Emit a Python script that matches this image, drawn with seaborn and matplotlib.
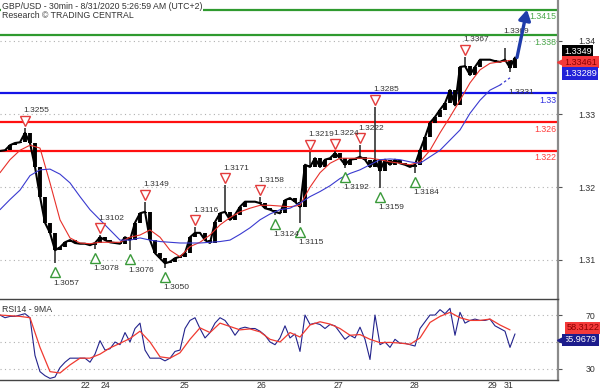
import numpy as np
import pandas as pd
import matplotlib
matplotlib.use("Agg")
import matplotlib.pyplot as plt
import seaborn as sns
from matplotlib.patches import FancyArrowPatch
from matplotlib import transforms as mtrans

# ---------------- data ----------------
title = "GBP/USD - 30min - 8/31/2020 5:26:59 AM (UTC+2)"
subtitle = "Research \u00a9 TRADING CENTRAL"

BAR = 5        # time units between close samples
MA_STEP = 10   # time units between moving-average samples

close = [1.3220, 1.3221, 1.3228, 1.3231, 1.3232, 1.3245, 1.3231, 1.3198, 1.3157, 1.3121,
         1.3107, 1.3083, 1.3087, 1.3094, 1.3097, 1.3093, 1.3092, 1.3092, 1.3090, 1.3093,
         1.3101, 1.3097, 1.3094, 1.3093, 1.3092, 1.3101, 1.3097, 1.3121, 1.3134, 1.3136,
         1.3097, 1.3079, 1.3072, 1.3065, 1.3067, 1.3072, 1.3074, 1.3079, 1.3101, 1.3107,
         1.3107, 1.3097, 1.3093, 1.3122, 1.3134, 1.3136, 1.3125, 1.3132, 1.3143, 1.3150,
         1.3150, 1.3150, 1.3148, 1.3141, 1.3139, 1.3136, 1.3134, 1.3152, 1.3155, 1.3150,
         1.3143, 1.3201, 1.3198, 1.3210, 1.3198, 1.3208, 1.3210, 1.3217, 1.3210, 1.3201,
         1.3208, 1.3209, 1.3212, 1.3208, 1.3198, 1.3208, 1.3193, 1.3208, 1.3201, 1.3208,
         1.3203, 1.3201, 1.3198, 1.3201, 1.3221, 1.3239, 1.3259, 1.3267, 1.3277, 1.3286,
         1.3304, 1.3283, 1.3336, 1.3337, 1.3325, 1.3336, 1.3346, 1.3346, 1.3346, 1.3344,
         1.3343, 1.3346, 1.3335, 1.3349]

red_ma = [1.3190, 1.3208, 1.3221, 1.3228, 1.3224, 1.3176, 1.3125, 1.3100, 1.3093, 1.3092,
          1.3094, 1.3094, 1.3094, 1.3101, 1.3104, 1.3111, 1.3101, 1.3083, 1.3074, 1.3088,
          1.3094, 1.3104, 1.3118, 1.3128, 1.3136, 1.3141, 1.3145, 1.3145, 1.3144, 1.3143,
          1.3145, 1.3170, 1.3190, 1.3203, 1.3210, 1.3210, 1.3210, 1.3210, 1.3208, 1.3205,
          1.3203, 1.3201, 1.3205, 1.3221, 1.3245, 1.3267, 1.3290, 1.3314, 1.3332, 1.3341,
          1.3343, 1.3345]

blue_ma = [1.3139, 1.3153, 1.3166, 1.3186, 1.3194, 1.3195, 1.3188, 1.3176, 1.3157, 1.3139,
           1.3125, 1.3111, 1.3097, 1.3097, 1.3100, 1.3097, 1.3095, 1.3094, 1.3093, 1.3093,
           1.3093, 1.3094, 1.3095, 1.3097, 1.3105, 1.3114, 1.3125, 1.3133, 1.3139, 1.3141,
           1.3148, 1.3157, 1.3164, 1.3172, 1.3182, 1.3189, 1.3194, 1.3201, 1.3208, 1.3209,
           1.3208, 1.3205, 1.3203, 1.3212, 1.3221, 1.3235, 1.3249, 1.3272, 1.3290, 1.3304,
           1.3311, 1.3321]

# swing highs / lows: sample index, drawn extreme, printed label, kind
piv_idx = [5, 11, 19, 20, 26, 29, 33, 39, 45, 52, 55, 60, 62, 67, 69, 72, 75, 76, 83, 93, 101, 102]
piv_ext = [1.3252, 1.3065, 1.3085, 1.3104, 1.3083, 1.3150, 1.3059, 1.3115, 1.3173, 1.3156,
           1.3132, 1.3121, 1.3219, 1.3220, 1.3197, 1.3228, 1.3281, 1.3169, 1.3190, 1.3350,
           1.3362, 1.3329]
piv_lab = ['1.3255', '1.3057', '1.3078', '1.3102', '1.3076', '1.3149', '1.3050', '1.3116',
           '1.3171', '1.3158', '1.3124', '1.3115', '1.3219', '1.3224', '1.3192', '1.3222',
           '1.3285', '1.3159', '1.3184', '1.3367', '1.3369', '1.3331']
piv_kind = ['H', 'L', 'L', 'H', 'L', 'H', 'L', 'H', 'H', 'H', 'L', 'L', 'H', 'H', 'L', 'H',
            'H', 'L', 'L', 'H', 'h', 'l']

level_vals = [1.3415, 1.338, 1.33, 1.326, 1.322]
level_labs = ['1.3415', '1.338', '1.33', '1.326', '1.322']
level_cols = ['#2f9a2f', '#2f9a2f', '#1414e6', '#ff1010', '#ff1010']
level_txt = ['#4aa84a', '#4aa84a', '#3030e0', '#ff3b3b', '#ff3b3b']

target = 1.3415
last_close = 1.3349
red_last = 1.33461
blue_last = 1.33289

rsi = [70, 68, 69, 69, 70, 71, 68, 40, 28, 25,
       23, 24, 31, 35, 38, 38, 38, 38, 35, 41,
       51, 44, 45, 50, 48, 57, 50, 60, 64, 44,
       38, 38, 38, 36, 38, 43, 44, 60, 66, 68,
       60, 53, 57, 64, 68, 66, 61, 55, 60, 61,
       60, 60, 58, 55, 50, 48, 53, 62, 53, 56,
       43, 70, 63, 64, 63, 60, 63, 62, 57, 52,
       55, 53, 61, 52, 37, 70, 48, 50, 46, 52,
       49, 49, 48, 47, 60, 65, 70, 70, 74, 71,
       75, 55, 72, 64, 66, 67, 66, 66, 67, 62,
       60, 58, 46, 56]
rsi_ma = [70, 69.5, 69, 68, 46, 28, 27, 33, 38, 38,
          41, 45.6, 49, 52.6, 58, 50, 39, 38, 42, 52,
          60.5, 57, 64, 61.5, 59, 59.7, 57.5, 52, 50, 57,
          53.7, 62.6, 65, 63.3, 60, 55, 55.5, 52, 49.5, 49.7,
          49.2, 48.3, 53, 64.5, 69, 72, 68, 66, 66, 67,
          62.6, 59]
rsi_last = 55.9679
rsi_ma_last = 58.3122

day_pos = [79, 99, 178, 255, 332, 408, 486, 502]
day_lab = ['22', '24', '25', '26', '27', '28', '29', '31']
price_tick_pos = [1.3372, 1.3271, 1.3170, 1.3070]
price_tick_lab = ['1.34', '1.33', '1.32', '1.31']
rsi_ticks = [70, 50, 30]

# ---------------- style ----------------
sns.set_style("white")
plt.rcParams['font.family'] = ['Liberation Sans', 'DejaVu Sans']
TXT = '#333333'

fig = plt.figure(figsize=(6.0, 3.92), dpi=100)
W, H = 600.0, 392.0
ax = fig.add_axes([0, (H - 299) / H, 558 / W, 299 / H])
axr = fig.add_axes([0, (H - 380) / H, 558 / W, 81 / H])
px = 0.72  # points per pixel

def off(a, dx_px, dy_px):
    return a.transData + mtrans.ScaledTranslation(dx_px / 100, dy_px / 100, fig.dpi_scale_trans)

# ---------------- main price panel ----------------
t_close = np.arange(len(close)) * BAR
t_ma = np.arange(len(red_ma)) * MA_STEP
c = np.array(close)

for v, col in zip(level_vals, level_cols):
    ax.axhline(v, color=col, lw=1.6, zorder=1)

ax.vlines(t_close[1:], np.minimum(c[:-1], c[1:]), np.maximum(c[:-1], c[1:]),
          color='black', lw=2.8, zorder=3)
for i, e in zip(piv_idx, piv_ext):
    ax.vlines(t_close[i], min(c[i], e), max(c[i], e), color='#222222', lw=1.1, zorder=3)
sns.lineplot(x=t_close, y=c, ax=ax, color='black', lw=1.5, zorder=3, legend=False)

df_ma = pd.DataFrame({'t': t_ma, 'red': red_ma, 'blue': blue_ma})
sns.lineplot(data=df_ma, x='t', y='red', ax=ax, color='#e8302a', lw=0.8, zorder=4, legend=False)
sns.lineplot(data=df_ma.iloc[:-1], x='t', y='blue', ax=ax, color='#3a3ad0', lw=0.8, zorder=4, legend=False)
ax.plot(df_ma['t'].iloc[-2:], df_ma['blue'].iloc[-2:], color='#3a3ad0', lw=0.9,
        ls=(0, (2, 2)), zorder=4)

for i, e, lab, k in zip(piv_idx, piv_ext, piv_lab, piv_kind):
    t = t_close[i]
    if k in ('H', 'h'):
        if k == 'H':
            ax.plot([t], [e], marker='v', ms=6.5, mfc='white', mec='#e33b3b', mew=1.0,
                    transform=off(ax, 0, 7), zorder=5)
        ax.annotate(lab, (t, e), xytext=(-2 * px, 17 * px), textcoords='offset points',
                    ha='left', va='center', fontsize=6, color=TXT, zorder=6)
    else:
        if k == 'L':
            ax.plot([t], [e], marker='^', ms=6.5, mfc='white', mec='#3a9a3a', mew=1.0,
                    transform=off(ax, 0, -9), zorder=5)
        ax.annotate(lab, (t, e), xytext=(-2 * px, -20 * px), textcoords='offset points',
                    ha='left', va='center', fontsize=6, color=TXT, zorder=6)

for v, lab, col in zip(level_vals, level_labs, level_txt):
    ax.annotate(lab, (1, v), xycoords=('axes fraction', 'data'), xytext=(-1.5, -1.8),
                textcoords='offset points', ha='right', va='top', fontsize=6.3, color=col)

arrow = FancyArrowPatch((t_close[-1] + 2, last_close), (527, target),
                        arrowstyle='-|>,head_length=6,head_width=3.5', mutation_scale=1,
                        lw=2.4, color='#1f3caa', zorder=7, shrinkA=0, shrinkB=0)
ax.add_patch(arrow)

ax.set_xlim(0, 558)
ax.set_ylim(1.30157, 1.34284)
ax.set_xticks([])
ax.yaxis.tick_right()
ax.set_yticks(price_tick_pos)
ax.set_yticklabels(price_tick_lab)
ax.tick_params(axis='y', direction='out', length=3, width=0.8, color='#555555',
               labelsize=6.3, labelcolor=TXT, pad=24)
for lbl in ax.get_yticklabels():
    lbl.set_horizontalalignment('right')
ax.grid(axis='y', color='#b0b0b0', ls=(0, (1, 3)), lw=0.8)
ax.set_xlabel('')
ax.set_ylabel('')
for s in ['top', 'left', 'bottom']:
    ax.spines[s].set_visible(False)
ax.spines['right'].set_color('#8a8a8a')
ax.spines['right'].set_linewidth(1.6)

# value boxes on the right of the price panel
def vbox(a, val, text, dy_px, fc, tc, dx_px=6, pointer=False):
    a.annotate(text, (1, val), xycoords=('axes fraction', 'data'),
               xytext=(dx_px * px, dy_px * px), textcoords='offset points',
               ha='left', va='center', fontsize=6.6, color=tc, zorder=10,
               bbox=dict(boxstyle='square,pad=0.18', fc=fc, ec='none'),
               annotation_clip=False)
    if pointer:
        a.plot([1], [val], marker='<', ms=6, color=fc, mec=fc, clip_on=False,
               transform=mtrans.blended_transform_factory(a.transAxes, a.transData)
               + mtrans.ScaledTranslation(3 / 100, dy_px / 100, fig.dpi_scale_trans),
               zorder=10)

vbox(ax, last_close, '1.3349', 6.5, '#000000', 'white')
vbox(ax, red_last, '1.33461', -2.5, '#f43a3a', '#8a0000', dx_px=6, pointer=True)
vbox(ax, blue_last, '1.33289', -1.5, '#2323d8', 'white')

fig.text(2 / W, 1 - 6.5 / H, title, ha='left', va='center', fontsize=6.3, color=TXT,
         bbox=dict(boxstyle='square,pad=0.1', fc='white', ec='none'))
fig.text(2 / W, 1 - 16 / H, subtitle, ha='left', va='center', fontsize=6.3, color=TXT,
         bbox=dict(boxstyle='square,pad=0.1', fc='white', ec='none'), zorder=20)

# ---------------- RSI panel ----------------
t_rsi = np.arange(len(rsi)) * BAR
t_rsi_ma = np.arange(len(rsi_ma)) * MA_STEP
sns.lineplot(x=t_rsi, y=rsi, ax=axr, color='#23238c', lw=0.8, legend=False)
sns.lineplot(x=t_rsi_ma, y=rsi_ma, ax=axr, color='#f03a30', lw=0.9, legend=False)
axr.set_xlim(0, 558)
axr.set_ylim(21.8, 81.9)
axr.yaxis.tick_right()
axr.set_yticks(rsi_ticks)
axr.set_yticklabels([str(v) for v in rsi_ticks])
axr.tick_params(axis='y', direction='out', length=3, width=0.8, color='#555555',
                labelsize=6.3, labelcolor=TXT, pad=24)
for lbl in axr.get_yticklabels():
    lbl.set_horizontalalignment('right')
axr.grid(axis='y', color='#b0b0b0', ls=(0, (1, 3)), lw=0.8)
axr.set_xticks(day_pos)
axr.set_xticklabels(day_lab)
axr.tick_params(axis='x', direction='out', length=4, width=0.8, color='#444444',
                labelsize=6.3, labelcolor=TXT, pad=-3.5)
shift = mtrans.ScaledTranslation(1.5 / 100, 0, fig.dpi_scale_trans)
for lbl in axr.get_xticklabels():
    lbl.set_horizontalalignment('left')
    lbl.set_transform(lbl.get_transform() + shift)
axr.set_xlabel('')
axr.set_ylabel('')
axr.spines['left'].set_visible(False)
axr.spines['top'].set_color('#444444')
axr.spines['top'].set_linewidth(1.0)
axr.spines['bottom'].set_color('#444444')
axr.spines['bottom'].set_linewidth(1.0)
axr.spines['right'].set_color('#8a8a8a')
axr.spines['right'].set_linewidth(1.6)
axr.text(2, 0.93, 'RSI14 - 9MA', transform=mtrans.blended_transform_factory(axr.transData, axr.transAxes),
         ha='left', va='top', fontsize=6.3, color=TXT)

vbox(axr, rsi_ma_last, '58.3122', 3, '#f43a3a', '#8a0000', dx_px=9)
vbox(axr, rsi_last, '55.9679', -6, '#1c1c8c', 'white', dx_px=6, pointer=True)

fig.savefig('out.png', dpi=100, facecolor='white')
